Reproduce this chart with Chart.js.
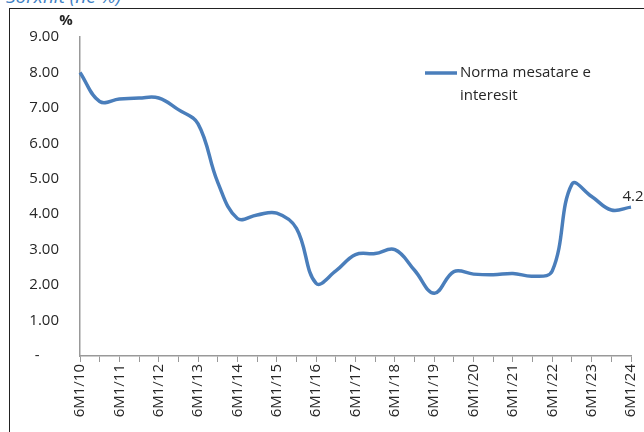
<!DOCTYPE html>
<html>
<head>
<meta charset="utf-8">
<script src="https://cdn.jsdelivr.net/npm/chart.js@4/dist/chart.umd.min.js"></script>
<style>
  body { margin: 0; background: #fff; width: 644px; height: 432px; overflow: hidden; position: relative; font-family: 'Open Sans', sans-serif; }
  #title { position: absolute; left: 6px; top: -17px; font-size: 19px; font-style: italic; color: #3f7fc4; white-space: nowrap; }
  #frame { position: absolute; left: 9px; top: 8px; width: 700px; height: 500px; border: 1px solid #222; }
  #wrap { position: absolute; left: 0; top: 0; width: 644px; height: 432px; }
</style>
</head>
<body>
<div id="title">Sorxhit (në %)</div>
<div id="frame"></div>
<div id="wrap"><canvas id="chart" width="644" height="432"></canvas></div>
<script>
const periods = [
  '6M1/10', '6M2/10', '6M1/11', '6M2/11', '6M1/12', '6M2/12', '6M1/13', '6M2/13',
  '6M1/14', '6M2/14', '6M1/15', '6M2/15', '6M1/16', '6M2/16', '6M1/17', '6M2/17',
  '6M1/18', '6M2/18', '6M1/19', '6M2/19', '6M1/20', '6M2/20', '6M1/21', '6M2/21',
  '6M1/22', '6M2/22', '6M1/23', '6M2/23', '6M1/24'
];
const rates = [
  8.0, 7.18, 7.25, 7.28, 7.28, 6.95, 6.55, 4.9,
  3.88, 3.98, 4.03, 3.6, 2.05, 2.4, 2.86, 2.89,
  3.0, 2.42, 1.77, 2.38, 2.31, 2.29, 2.33, 2.25,
  2.4, 4.85, 4.5, 4.12, 4.2
];
const seriesName = ['Norma mesatare e', 'interesit'];
const lastLabel = '4.2';

const lineColor = '#4a7ebb';
const textColor = '#262626';
const font = { family: "'Open Sans', sans-serif", size: 15 };

// legend, % sign and the value on the last point
const extras = {
  id: 'extras',
  afterDraw(chart) {
    const ctx = chart.ctx;
    const area = chart.chartArea;
    ctx.save();
    ctx.font = "15px 'Open Sans', sans-serif";
    ctx.fillStyle = textColor;

    // legend
    const lx = area.left + 345, ly = area.top + 36;
    ctx.strokeStyle = lineColor;
    ctx.lineWidth = 3.5;
    ctx.beginPath();
    ctx.moveTo(lx, ly);
    ctx.lineTo(lx + 32, ly);
    ctx.stroke();
    ctx.textAlign = 'left';
    ctx.textBaseline = 'middle';
    ctx.fillText(seriesName[0], lx + 35, ly);
    ctx.fillText(seriesName[1], lx + 35, ly + 23);

    // unit
    ctx.font = "bold 15px 'Open Sans', sans-serif";
    ctx.textAlign = 'center';
    ctx.fillText('%', area.left - 14, area.top - 16);

    // last value label
    const meta = chart.getDatasetMeta(0);
    const p = meta.data[meta.data.length - 1];
    ctx.font = "15px 'Open Sans', sans-serif";
    ctx.fillText(lastLabel, p.x + 2, p.y - 10);
    ctx.restore();
  }
};

new Chart(document.getElementById('chart'), {
  type: 'line',
  data: {
    labels: periods,
    datasets: [{
      label: seriesName.join(' '),
      data: rates,
      borderColor: lineColor,
      borderWidth: 3.5,
      pointRadius: 0,
      tension: 0.4,
      fill: false
    }]
  },
  options: {
    responsive: false,
    animation: false,
    layout: { padding: { left: 0, right: 13, top: 37, bottom: 0 } },
    plugins: {
      legend: { display: false },
      tooltip: { enabled: false }
    },
    scales: {
      x: {
        offset: false,
        grid: { drawOnChartArea: false, drawTicks: true, tickLength: 6, color: '#999' },
        border: { color: '#999', width: 1.5 },
        ticks: {
          autoSkip: false,
          minRotation: 90,
          maxRotation: 90,
          padding: 2,
          color: textColor,
          font: font,
          callback: (v, i) => i % 2 === 0 ? periods[i] : ''
        },
        afterFit: s => { s.height = 76; s.paddingLeft = 0; s.paddingRight = 0; }
      },
      y: {
        min: 0,
        max: 9,
        grid: { display: true, drawOnChartArea: false, drawTicks: false },
        border: { color: '#999', width: 1.5 },
        ticks: {
          stepSize: 1,
          padding: 21,
          color: textColor,
          font: font,
          callback: v => v === 0 ? '-     ' : v.toFixed(2)
        },
        afterFit: s => { s.width = 80; s.paddingTop = 0; s.paddingBottom = 0; }
      }
    }
  },
  plugins: [extras]
});
</script>
</body>
</html>
